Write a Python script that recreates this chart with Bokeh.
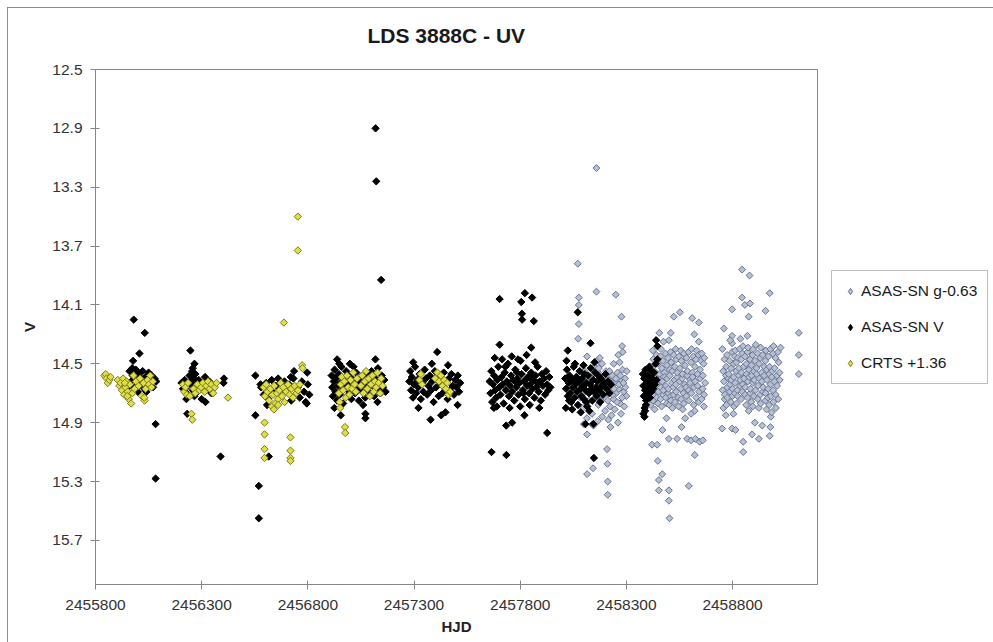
import math
from bokeh.plotting import figure
from bokeh.models import Range1d, FixedTicker, Legend, LegendItem
from bokeh.embed import file_html
from bokeh.resources import INLINE

title_text = "LDS 3888C - UV"
x_label = "HJD"
y_label = "V"
x_ticks = [2455800, 2456300, 2456800, 2457300, 2457800, 2458300, 2458800]
x_tick_labels = ["2455800", "2456300", "2456800", "2457300", "2457800", "2458300", "2458800"]
y_ticks = [12.5, 12.9, 13.3, 13.7, 14.1, 14.5, 14.9, 15.3, 15.7]
y_tick_labels = ["12.5", "12.9", "13.3", "13.7", "14.1", "14.5", "14.9", "15.3", "15.7"]
series_names = ["ASAS-SN g-0.63", "ASAS-SN V", "CRTS +1.36"]

# ASAS-SN g - 0.63 : (HJD, mag)
asassn_g = [
    # season 2018
    (2458159,13.17),(2458071,13.82),(2458076,14.05),(2458076,14.10),(2458159,14.01),(2458250,14.03),
    (2458277,14.18),(2458076,14.23),(2458073,14.33),(2458115,14.45),(2458280,14.38),(2458283,14.42),(2458262,14.44),
    (2458072,14.58),(2458078,14.66),(2458084,14.73),(2458090,14.61),(2458096,14.80),(2458102,14.55),(2458108,14.69),
    (2458114,14.87),(2458120,14.63),(2458126,14.75),(2458132,14.59),(2458138,14.84),(2458144,14.67),(2458150,14.52),
    (2458156,14.71),(2458162,14.62),(2458168,14.78),(2458174,14.57),(2458180,14.68),(2458186,14.86),(2458192,14.64),
    (2458198,14.73),(2458204,14.55),(2458210,14.69),(2458216,14.61),(2458222,14.79),(2458228,14.66),(2458234,14.58),
    (2458240,14.74),(2458246,14.63),(2458252,14.70),(2458258,14.56),(2458264,14.67),(2458270,14.77),(2458276,14.62),
    (2458282,14.54),(2458288,14.69),(2458294,14.60),(2458300,14.72),(2458160,14.48),(2458170,14.53),(2458185,14.50),
    (2458200,14.82),(2458215,14.88),(2458230,14.85),(2458245,14.81),(2458260,14.90),(2458275,14.84),(2458290,14.79),
    (2458195,14.59),(2458205,14.65),(2458220,14.55),(2458235,14.71),(2458250,14.60),(2458265,14.64),(2458280,14.73),
    (2458295,14.66),(2458178,14.75),(2458190,14.70),(2458212,14.75),(2458226,14.62),(2458242,14.67),(2458256,14.76),
    (2458272,14.58),(2458286,14.63),(2458302,14.55),(2458165,14.89),(2458140,14.91),(2458225,14.93),(2458175,14.46),
    (2458240,14.50),(2458268,14.49),(2458100,14.91),(2458145,14.92),(2458115,14.98),(2458115,15.25),(2458143,15.21),
    (2458209,15.08),(2458211,15.18),(2458212,15.30),(2458212,15.39),
    # season 2019
    (2458523,14.18),(2458552,14.15),(2458610,14.19),(2458641,14.22),(2458509,14.29),(2458455,14.29),(2458500,14.34),
    (2458641,14.35),(2458620,14.30),
    (2458421,15.05),(2458445,15.05),(2458448,15.16),(2458469,15.25),(2458453,15.29),(2458453,15.36),(2458500,15.36),
    (2458500,15.43),(2458503,15.55),(2458594,15.33),(2458500,15.01),(2458539,15.01),(2458586,15.01),(2458605,15.02),
    (2458625,15.01),(2458645,15.03),(2458660,15.02),(2458622,15.12),(2458560,14.93),(2458470,14.95),
    (2458414,14.52),(2458418,14.66),(2458415,14.78),
    (2458424,14.41),(2458420,14.59),(2458425,14.71),
    (2458427,14.47),(2458431,14.63),(2458426,14.75),
    (2458432,14.55),(2458437,14.68),(2458433,14.81),
    (2458441,14.44),(2458438,14.60),(2458443,14.73),
    (2458448,14.50),(2458444,14.64),(2458449,14.77),
    (2458455,14.57),(2458451,14.69),
    (2458460,14.45),(2458457,14.61),(2458461,14.74),
    (2458463,14.40),(2458467,14.53),(2458462,14.66),(2458466,14.79),
    (2458472,14.48),(2458469,14.62),(2458473,14.71),
    (2458475,14.35),(2458479,14.56),(2458474,14.68),
    (2458484,14.43),(2458481,14.59),(2458485,14.73),
    (2458491,14.51),(2458486,14.65),(2458490,14.77),(2458489,14.87),
    (2458496,14.46),(2458492,14.60),(2458497,14.70),
    (2458503,14.54),(2458498,14.67),(2458502,14.78),
    (2458508,14.42),(2458504,14.58),(2458509,14.72),
    (2458511,14.49),(2458515,14.63),(2458510,14.75),
    (2458516,14.55),(2458521,14.66),(2458517,14.80),
    (2458523,14.44),(2458527,14.61),(2458522,14.71),
    (2458532,14.40),(2458528,14.52),(2458533,14.64),(2458529,14.76),
    (2458535,14.47),(2458539,14.59),(2458534,14.69),
    (2458540,14.56),(2458545,14.73),
    (2458547,14.45),(2458551,14.62),(2458546,14.79),
    (2458556,14.41),(2458552,14.53),(2458557,14.67),
    (2458559,14.48),(2458563,14.60),(2458558,14.74),
    (2458564,14.57),(2458569,14.70),(2458565,14.81),
    (2458571,14.43),(2458575,14.64),(2458570,14.77),
    (2458576,14.51),(2458581,14.66),(2458577,14.87),
    (2458583,14.46),(2458587,14.58),(2458582,14.72),
    (2458592,14.42),(2458588,14.55),(2458593,14.68),
    (2458599,14.61),(2458594,14.75),
    (2458604,14.49),(2458600,14.63),(2458605,14.84),
    (2458607,14.40),(2458611,14.56),(2458606,14.70),
    (2458616,14.45),(2458612,14.59),(2458617,14.78),
    (2458623,14.52),(2458618,14.66),(2458622,14.82),
    (2458628,14.47),(2458624,14.62),(2458629,14.73),
    (2458631,14.41),(2458635,14.57),
    (2458640,14.44),(2458636,14.65),(2458641,14.76),
    (2458647,14.54),(2458642,14.69),
    (2458652,14.48),(2458648,14.60),
    (2458655,14.43),(2458659,14.67),(2458654,14.74),
    (2458664,14.50),(2458660,14.58),(2458665,14.79),
    (2458667,14.46),(2458671,14.63),(2458666,14.71),
    # season 2020
    (2458845,13.86),(2458880,13.90),(2458845,14.05),(2458858,14.10),(2458882,14.09),(2458876,14.18),(2458798,14.13),
    (2458955,14.14),(2458975,14.02),(2458759,14.26),(2458798,14.31),(2458798,14.36),(2458870,14.31),
    (2458751,14.94),(2458798,14.94),(2458814,14.95),(2458850,15.03),(2458850,15.10),(2458892,14.98),(2458924,15.01),
    (2458975,14.99),(2458978,14.93),(2458980,14.86),(2458940,14.92),(2458905,14.90),
    (2458752,14.40),(2458756,14.55),(2458753,14.68),(2458757,14.80),
    (2458762,14.47),(2458759,14.62),(2458763,14.74),
    (2458769,14.58),(2458764,14.71),(2458768,14.85),
    (2458774,14.44),(2458770,14.52),(2458775,14.66),(2458771,14.78),
    (2458781,14.60),(2458776,14.73),
    (2458786,14.48),(2458782,14.57),(2458787,14.69),
    (2458789,14.34),(2458793,14.53),(2458788,14.64),(2458792,14.76),
    (2458798,14.42),(2458794,14.61),(2458799,14.72),
    (2458805,14.50),(2458800,14.67),(2458804,14.84),
    (2458810,14.45),(2458806,14.59),(2458811,14.70),(2458807,14.79),
    (2458813,14.41),(2458817,14.55),(2458812,14.63),
    (2458818,14.49),(2458823,14.68),(2458819,14.77),
    (2458825,14.46),(2458829,14.58),(2458824,14.72),
    (2458834,14.40),(2458830,14.53),(2458835,14.65),
    (2458837,14.33),(2458841,14.47),(2458836,14.61),(2458840,14.74),
    (2458846,14.43),(2458842,14.56),(2458847,14.69),
    (2458849,14.38),(2458853,14.52),(2458848,14.64),
    (2458858,14.45),(2458854,14.60),(2458859,14.71),
    (2458865,14.50),(2458860,14.66),(2458864,14.78),
    (2458870,14.42),(2458866,14.57),(2458871,14.73),
    (2458873,14.39),(2458877,14.54),(2458872,14.62),(2458876,14.82),
    (2458882,14.47),(2458878,14.59),(2458883,14.70),
    (2458889,14.51),(2458884,14.67),(2458888,14.76),
    (2458894,14.44),(2458890,14.58),(2458895,14.79),
    (2458897,14.40),(2458901,14.55),(2458896,14.63),(2458900,14.72),
    (2458906,14.48),(2458902,14.61),
    (2458909,14.37),(2458913,14.53),(2458908,14.68),
    (2458918,14.43),(2458914,14.57),(2458919,14.74),
    (2458925,14.50),(2458920,14.65),(2458924,14.80),
    (2458930,14.46),(2458926,14.60),(2458931,14.71),
    (2458933,14.39),(2458937,14.56),(2458932,14.77),
    (2458942,14.44),(2458938,14.62),(2458943,14.69),
    (2458949,14.52),(2458944,14.66),
    (2458954,14.48),(2458950,14.58),(2458955,14.75),
    (2458957,14.41),(2458961,14.54),(2458956,14.70),(2458960,14.81),
    (2458962,14.61),(2458967,14.73),
    (2458969,14.45),(2458973,14.57),(2458968,14.67),(2458972,14.78),
    (2458978,14.40),(2458974,14.52),(2458979,14.64),
    (2458985,14.59),(2458980,14.72),(2458984,14.83),
    (2458990,14.43),(2458986,14.55),(2458991,14.68),
    (2458993,14.38),(2458997,14.62),(2458992,14.76),
    (2459002,14.46),(2458998,14.53),(2459003,14.71),
    (2459009,14.58),(2459004,14.80),
    (2459014,14.42),(2459010,14.65),(2459015,14.74),
    (2459017,14.49),(2459021,14.56),
    (2459026,14.39),(2459022,14.61),
    # season 2021
    (2459112,14.29),(2459112,14.44),(2459112,14.57),
]

# ASAS-SN V : (HJD, mag)
asassn_v = [
    # 2011-12
    (2455980,14.20),(2456032,14.29),(2456007,14.43),(2455977,14.48),(2456083,14.91),(2456083,15.28),
    (2455960,14.55),(2455968,14.62),(2455975,14.58),(2455983,14.66),(2455990,14.54),(2455996,14.61),(2456002,14.57),
    (2456010,14.64),(2456016,14.60),(2456022,14.55),(2456029,14.67),(2456036,14.59),(2456043,14.63),(2456050,14.56),
    (2456057,14.61),(2456064,14.58),(2456071,14.66),(2456078,14.60),(2456086,14.62),(2455954,14.66),(2456040,14.69),
    (2455999,14.69),(2455973,14.53),
    # 2012-13
    (2456247,14.41),(2456266,14.50),(2456232,14.84),(2456389,15.13),(2456403,14.63),(2456405,14.60),
    (2456205,14.63),(2456212,14.67),(2456220,14.61),(2456228,14.70),(2456236,14.65),(2456243,14.58),(2456250,14.62),
    (2456255,14.55),(2456258,14.68),(2456262,14.60),(2456266,14.72),(2456270,14.57),(2456274,14.64),(2456280,14.69),
    (2456286,14.61),(2456292,14.66),(2456300,14.74),(2456308,14.63),(2456316,14.59),(2456326,14.67),(2456336,14.62),
    (2456346,14.70),(2456258,14.53),(2456318,14.76),(2456228,14.74),(2456262,14.57),(2456268,14.65),
    # 2013-14
    (2456553,14.58),(2456553,14.85),(2456569,15.33),(2456569,15.55),(2456616,15.13),(2456735,14.55),(2456797,14.56),
    (2456580,14.66),(2456592,14.71),(2456604,14.63),(2456614,14.74),(2456622,14.68),(2456630,14.61),(2456640,14.70),
    (2456650,14.65),(2456660,14.60),(2456670,14.72),(2456680,14.67),(2456690,14.62),(2456700,14.69),(2456712,14.64),
    (2456722,14.75),(2456732,14.60),(2456742,14.71),(2456752,14.66),(2456762,14.73),(2456772,14.62),(2456782,14.69),
    (2456790,14.76),(2456800,14.64),(2456807,14.71),(2456795,14.77),(2456720,14.59),(2456577,14.64),(2456608,14.78),
    # 2014-15
    (2457119,12.90),(2457122,13.26),(2457145,13.93),(2456938,14.47),(2457118,14.47),(2457015,14.52),
    (2456955,14.85),(2457071,14.84),(2457071,14.87),(2456925,14.80),
    (2456912,14.58),(2456915,14.66),(2456918,14.72),(2456922,14.62),(2456926,14.54),(2456930,14.69),(2456934,14.60),
    (2456938,14.75),(2456942,14.65),(2456946,14.57),(2456950,14.71),(2456954,14.63),(2456958,14.52),(2456962,14.68),
    (2456966,14.77),(2456970,14.60),(2456975,14.66),(2456980,14.55),(2456985,14.72),(2456990,14.63),(2456995,14.69),
    (2457000,14.58),(2457005,14.74),(2457010,14.64),(2457016,14.61),(2457022,14.70),(2457028,14.56),(2457034,14.67),
    (2457040,14.75),(2457046,14.62),(2457052,14.59),(2457058,14.69),(2457064,14.64),(2457070,14.73),(2457076,14.57),
    (2457082,14.66),(2457088,14.61),(2457094,14.70),(2457100,14.55),(2457106,14.65),(2457112,14.72),(2457118,14.60),
    (2457124,14.67),(2457130,14.53),(2457136,14.63),(2457142,14.70),(2457148,14.58),(2457154,14.66),(2457160,14.61),
    (2457166,14.69),(2457128,14.76),(2457060,14.78),(2456998,14.50),(2456948,14.50),
    # 2015-16
    (2457409,14.42),(2457321,14.80),(2457378,14.88),(2457428,14.85),(2457448,14.83),(2457505,14.78),
    (2457278,14.62),(2457282,14.55),(2457286,14.68),(2457290,14.59),(2457295,14.73),(2457300,14.64),(2457305,14.52),
    (2457310,14.70),(2457315,14.61),(2457320,14.66),(2457326,14.57),(2457332,14.74),(2457338,14.63),(2457344,14.69),
    (2457350,14.54),(2457356,14.60),(2457362,14.71),(2457368,14.65),(2457374,14.58),(2457380,14.68),(2457386,14.62),
    (2457392,14.76),(2457398,14.55),(2457404,14.66),(2457410,14.61),(2457416,14.72),(2457422,14.59),(2457428,14.64),
    (2457434,14.70),(2457440,14.56),(2457446,14.67),(2457452,14.62),(2457458,14.74),(2457464,14.60),(2457470,14.68),
    (2457476,14.57),(2457482,14.65),(2457488,14.71),(2457494,14.61),(2457500,14.66),(2457506,14.58),(2457512,14.69),
    (2457517,14.63),(2457296,14.49),(2457384,14.50),(2457460,14.51),
    # 2016-17
    (2457703,14.06),(2457822,14.02),(2457856,14.05),(2457805,14.08),(2457808,14.16),(2457809,14.20),(2457864,14.21),
    (2457703,14.37),(2457852,14.39),(2457680,14.46),
    (2457676,14.80),(2457734,14.92),(2457762,14.90),(2457820,14.85),(2457927,14.97),(2457665,15.10),(2457735,15.12),
    (2457656,14.62),(2457660,14.70),(2457664,14.55),(2457668,14.76),(2457672,14.64),(2457677,14.58),(2457682,14.68),
    (2457687,14.73),(2457692,14.61),(2457697,14.52),(2457702,14.66),(2457707,14.71),(2457712,14.59),(2457717,14.64),
    (2457722,14.77),(2457727,14.56),(2457732,14.68),(2457737,14.62),(2457742,14.50),(2457747,14.72),(2457752,14.65),
    (2457757,14.58),(2457762,14.69),(2457767,14.61),(2457772,14.75),(2457777,14.54),(2457782,14.66),(2457787,14.60),
    (2457792,14.71),(2457797,14.63),(2457802,14.48),(2457807,14.57),(2457812,14.68),(2457817,14.62),(2457822,14.74),
    (2457827,14.53),(2457832,14.65),(2457837,14.59),(2457842,14.70),(2457847,14.64),(2457852,14.56),(2457857,14.67),
    (2457862,14.61),(2457867,14.73),(2457872,14.58),(2457877,14.66),(2457882,14.52),(2457887,14.69),(2457892,14.62),
    (2457897,14.75),(2457902,14.57),(2457907,14.65),(2457912,14.60),(2457917,14.71),(2457922,14.55),(2457927,14.64),
    (2457932,14.68),(2457937,14.59),(2457942,14.66),(2457760,14.45),(2457790,14.47),(2457830,14.44),(2457870,14.49),
    (2457750,14.80),(2457800,14.79),(2457845,14.78),(2457890,14.80),(2457715,14.47),(2457690,14.79),(2457730,14.52),
    (2457775,14.62),(2457815,14.70),(2457850,14.60),(2457880,14.63),(2457785,14.56),(2457825,14.61),
    # 2017-18
    (2458071,14.15),(2458024,14.41),(2458131,14.36),(2458147,15.14),(2458107,14.91),(2458145,14.91),
    (2458012,14.60),(2458016,14.67),(2458020,14.54),(2458024,14.72),(2458028,14.63),(2458032,14.58),(2458036,14.70),
    (2458040,14.76),(2458044,14.61),(2458048,14.66),(2458052,14.52),(2458056,14.73),(2458060,14.64),(2458064,14.59),
    (2458068,14.69),(2458072,14.78),(2458076,14.62),(2458080,14.55),(2458084,14.67),(2458088,14.72),(2458092,14.60),
    (2458096,14.65),(2458100,14.74),(2458104,14.57),(2458108,14.68),(2458112,14.63),(2458116,14.79),(2458120,14.58),
    (2458124,14.70),(2458128,14.64),(2458132,14.53),(2458136,14.67),(2458140,14.75),(2458144,14.61),(2458148,14.69),
    (2458152,14.56),(2458156,14.66),(2458160,14.72),(2458164,14.62),(2458168,14.58),(2458172,14.68),(2458176,14.76),
    (2458180,14.60),(2458185,14.65),(2458190,14.71),(2458196,14.63),(2458202,14.57),(2458208,14.67),(2458214,14.62),
    (2458220,14.70),(2458228,14.64),(2458015,14.80),(2458045,14.81),(2458085,14.83),(2458125,14.82),(2458058,14.50),
    (2458098,14.51),(2458150,14.49),(2458030,14.75),(2458110,14.76),(2458018,14.48),
    # 2018-19
    (2458440,14.34),(2458446,14.38),
    (2458378,14.57),(2458380,14.65),(2458382,14.72),(2458384,14.60),(2458386,14.80),(2458388,14.68),(2458390,14.54),
    (2458393,14.75),(2458396,14.62),(2458399,14.70),(2458402,14.58),(2458405,14.66),(2458408,14.52),(2458411,14.73),
    (2458414,14.63),(2458418,14.69),(2458422,14.60),(2458426,14.67),(2458430,14.56),(2458434,14.64),(2458438,14.50),
    (2458442,14.61),(2458446,14.47),(2458385,14.86),(2458388,14.82),(2458392,14.78),(2458380,14.84),(2458420,14.55),
]

# CRTS + 1.36 : (HJD, mag)
crts = [
    # 2011-12
    (2455842,14.58),(2455848,14.57),(2455852,14.60),(2455858,14.63),(2455866,14.61),(2455871,14.59),
    (2455905,14.61),(2455912,14.65),(2455918,14.63),(2455924,14.68),(2455930,14.60),(2455935,14.71),(2455941,14.66),
    (2455946,14.62),(2455952,14.69),(2455957,14.74),(2455962,14.64),(2455968,14.77),(2455974,14.70),(2455979,14.58),
    (2455985,14.67),(2455991,14.62),(2456003,14.65),(2456010,14.60),(2456018,14.72),(2456026,14.63),(2456031,14.75),
    (2456036,14.67),(2456045,14.61),(2456052,14.64),(2456058,14.58),(2456064,14.66),(2456070,14.62),(2455950,14.72),
    (2455938,14.63),(2456030,14.73),
    # 2012-13
    (2456212,14.64),(2456218,14.69),(2456224,14.66),(2456230,14.71),(2456236,14.63),(2456262,14.67),(2456270,14.70),
    (2456280,14.64),(2456290,14.68),(2456298,14.66),(2456306,14.63),(2456314,14.69),(2456322,14.65),(2456330,14.62),
    (2456338,14.67),(2456346,14.64),(2456354,14.70),(2456362,14.66),(2456370,14.63),(2456252,14.84),(2456256,14.88),
    (2456424,14.73),(2456244,14.72),
    # 2013-14
    (2456753,13.50),(2456753,13.73),(2456687,14.22),(2456773,14.51),(2456775,14.53),
    (2456596,14.90),(2456596,14.98),(2456596,15.08),(2456596,15.14),
    (2456718,15.00),(2456718,15.09),(2456718,15.14),(2456718,15.16),
    (2456592,14.66),(2456598,14.72),(2456604,14.64),(2456610,14.69),(2456618,14.75),(2456624,14.67),(2456630,14.79),
    (2456636,14.71),(2456642,14.65),(2456648,14.77),(2456654,14.70),(2456660,14.74),(2456666,14.68),(2456672,14.63),
    (2456678,14.72),(2456684,14.66),(2456690,14.76),(2456698,14.69),(2456706,14.64),(2456714,14.71),(2456722,14.67),
    (2456730,14.73),(2456738,14.65),(2456746,14.70),(2456754,14.68),(2456762,14.64),(2456640,14.81),(2456660,14.78),
    # 2014-15
    (2456946,14.70),(2456950,14.76),(2456955,14.64),(2456960,14.59),(2456966,14.68),(2456972,14.62),(2456978,14.73),
    (2456984,14.58),(2456990,14.66),(2456996,14.71),(2457002,14.61),(2457008,14.67),(2457014,14.56),(2457020,14.64),
    (2457026,14.69),(2457032,14.60),(2457050,14.65),(2457056,14.58),(2457062,14.70),(2457068,14.62),(2457074,14.55),
    (2457080,14.67),(2457086,14.60),(2457092,14.72),(2457098,14.64),(2457104,14.58),(2457110,14.69),(2457116,14.62),
    (2457122,14.66),(2457128,14.56),(2457134,14.63),(2457140,14.70),(2457146,14.60),(2457152,14.65),(2456952,14.80),
    (2456975,14.93),(2456976,14.97),
    # 2015-16
    (2457325,14.61),(2457332,14.57),(2457338,14.64),(2457400,14.60),(2457410,14.56),(2457418,14.62),(2457426,14.58),
    (2457434,14.65),(2457442,14.61),(2457450,14.67),(2457456,14.63),(2457462,14.71),(2457470,14.69),
]

g_hjd = [pt[0] for pt in asassn_g]
g_mag = [pt[1] for pt in asassn_g]
v_hjd = [pt[0] for pt in asassn_v]
v_mag = [pt[1] for pt in asassn_v]
c_hjd = [pt[0] for pt in crts]
c_mag = [pt[1] for pt in crts]

FONT = "Liberation Sans"
AXIS_GRAY = "#868686"
DIAMOND = math.pi / 4
G_STYLE = dict(fill_color="#b5bfd6", line_color="#6a748c", line_width=1)
V_STYLE = dict(fill_color="black", line_color="black", line_width=1)
C_STYLE = dict(fill_color="#dede48", line_color="#7c7c1c", line_width=1)

p = figure(frame_width=722, frame_height=515,
           min_border_left=87, min_border_right=176, min_border_top=61, min_border_bottom=58,
           x_range=Range1d(2455800, 2459200), y_range=Range1d(16.0, 12.5),
           output_backend="svg", toolbar_location=None)
p.styles = {"border-left": "1px solid #8c8c8c", "border-top": "1px solid #8c8c8c",
            "margin-left": "7px", "margin-top": "7px"}
p.background_fill_color = "white"
p.border_fill_color = "white"
p.outline_line_color = AXIS_GRAY
p.outline_line_width = 1
p.grid.visible = False

# a trailing empty line lifts the title text away from the plot area
p.title.text = title_text + "\n"
p.title.align = "left"
p.title.offset = 272
p.title.standoff = 0
p.title.text_font = FONT
p.title.text_font_size = "21px"
p.title.text_font_style = "bold"
p.title.text_color = "#1a1a1a"

p.xaxis.ticker = FixedTicker(ticks=x_ticks)
p.xaxis.major_label_overrides = dict(zip(x_ticks, x_tick_labels))
p.yaxis.ticker = FixedTicker(ticks=y_ticks)
p.yaxis.major_label_overrides = dict(zip(y_ticks, y_tick_labels))
p.xaxis.axis_label = x_label
p.yaxis.axis_label = y_label
for ax in (p.xaxis, p.yaxis):
    ax.axis_line_color = AXIS_GRAY
    ax.major_tick_line_color = AXIS_GRAY
    ax.minor_tick_line_color = None
    ax.major_tick_in = 4
    ax.major_tick_out = 5
    ax.major_label_text_font = FONT
    ax.major_label_text_font_size = "15.5px"
    ax.major_label_text_color = "#333333"
    ax.axis_label_text_font = FONT
    ax.axis_label_text_font_size = "15px"
    ax.axis_label_text_font_style = "bold"
    ax.axis_label_text_color = "#222222"
p.xaxis.major_label_standoff = 10
p.xaxis.axis_label_standoff = 5
p.yaxis.major_label_standoff = 8
p.yaxis.axis_label_standoff = 11

p.scatter(g_hjd, g_mag, marker="square", angle=DIAMOND, size=4.9, **G_STYLE)
p.scatter(v_hjd, v_mag, marker="square", angle=DIAMOND, size=5.2, **V_STYLE)
p.scatter(c_hjd, c_mag, marker="square", angle=DIAMOND, size=5.2, **C_STYLE)

# legend swatches: diamond glyphs holding no visible point
nan = float("nan")
lg_g = p.scatter([nan], [nan], marker="diamond", size=7, **G_STYLE)
lg_v = p.scatter([nan], [nan], marker="diamond", size=7, **V_STYLE)
lg_c = p.scatter([nan], [nan], marker="diamond", size=7, **C_STYLE)

legend = Legend(items=[LegendItem(label=series_names[0], renderers=[lg_g], index=0),
                       LegendItem(label=series_names[1], renderers=[lg_v], index=0),
                       LegendItem(label=series_names[2], renderers=[lg_c], index=0)],
                location="center_left", orientation="vertical")
legend.margin = 14
legend.padding = 10
legend.spacing = 16
legend.glyph_width = 16
legend.glyph_height = 20
legend.label_height = 20
legend.label_standoff = 3
legend.label_text_font = FONT
legend.label_text_font_size = "15.5px"
legend.label_text_color = "#1a1a1a"
legend.border_line_color = "#7f7f7f"
legend.border_line_width = 1
legend.background_fill_color = "white"
p.add_layout(legend, "right")

open("out.html", "w").write(file_html(p, INLINE))
